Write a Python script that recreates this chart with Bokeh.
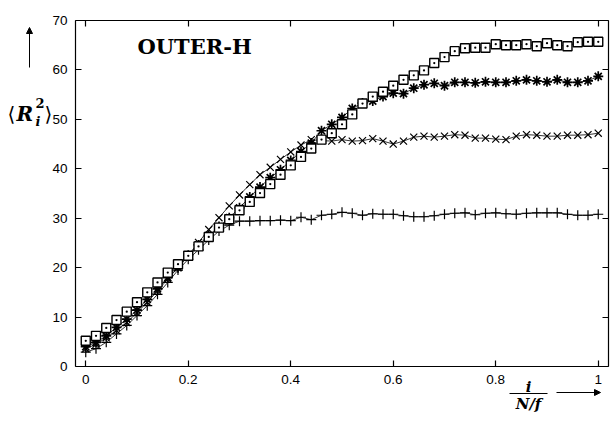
from bokeh.plotting import figure
from bokeh.models import Range1d, LinearAxis, Label, Arrow, NormalHead, FixedTicker
from bokeh.embed import file_html
from bokeh.resources import INLINE

# ---------------- data ----------------
x_vals = [0.00, 0.02, 0.04, 0.06, 0.08, 0.10, 0.12, 0.14, 0.16, 0.18,
          0.20, 0.22, 0.24, 0.26, 0.28, 0.30, 0.32, 0.34, 0.36, 0.38,
          0.40, 0.42, 0.44, 0.46, 0.48, 0.50, 0.52, 0.54, 0.56, 0.58,
          0.60, 0.62, 0.64, 0.66, 0.68, 0.70, 0.72, 0.74, 0.76, 0.78,
          0.80, 0.82, 0.84, 0.86, 0.88, 0.90, 0.92, 0.94, 0.96, 0.98, 1.00]

plus_vals = [2.9, 3.6, 4.9, 6.6, 8.3, 10.3, 12.3, 14.6, 17.0, 19.5,
             21.7, 23.6, 25.6, 27.4, 28.6, 29.4, 29.4, 29.5, 29.5, 29.6,
             29.5, 30.2, 29.7, 30.6, 30.8, 31.2, 31.0, 30.6, 30.9, 30.8,
             30.8, 30.5, 30.3, 30.3, 30.5, 30.8, 31.0, 31.1, 30.7, 31.0,
             31.1, 30.9, 30.8, 31.0, 31.1, 31.1, 31.1, 30.8, 30.6, 30.6, 30.8]

cross_vals = [3.6, 4.5, 5.8, 7.3, 8.9, 10.9, 13.0, 15.3, 17.7, 20.0,
              22.5, 25.1, 27.7, 30.1, 32.5, 34.7, 36.8, 38.8, 40.3, 41.9,
              43.4, 44.8, 45.9, 45.7, 45.6, 45.9, 45.6, 45.7, 46.1, 45.6,
              45.0, 45.6, 46.4, 46.6, 46.4, 46.6, 46.9, 46.8, 46.2, 46.2,
              46.0, 45.9, 46.6, 46.9, 46.8, 46.6, 46.6, 46.8, 46.8, 46.9, 47.2]

star_vals = [4.0, 4.9, 6.2, 7.9, 9.6, 11.4, 13.6, 15.7, 18.0, 20.0,
             22.5, 24.6, 26.5, 28.3, 30.1, 32.1, 34.3, 36.3, 38.2, 39.8,
             41.7, 43.5, 45.2, 47.7, 49.0, 50.4, 52.2, 53.3, 53.7, 54.6,
             55.3, 55.2, 56.3, 57.0, 57.3, 56.8, 57.5, 57.5, 57.4, 57.6,
             57.5, 57.5, 57.8, 58.0, 57.8, 57.6, 58.0, 57.5, 57.5, 57.8, 58.7]

square_vals = [5.2, 6.2, 7.8, 9.4, 11.1, 13.0, 15.0, 17.0, 19.0, 20.7,
               22.4, 24.3, 26.2, 28.1, 29.8, 31.6, 33.3, 35.1, 36.9, 38.8,
               40.7, 42.4, 44.1, 45.9, 47.2, 49.0, 51.0, 53.2, 54.6, 55.6,
               56.8, 58.0, 58.9, 59.9, 61.4, 62.6, 63.8, 64.4, 64.5, 64.5,
               65.2, 65.0, 65.0, 65.2, 64.8, 65.4, 65.0, 64.8, 65.6, 65.7, 65.7]

x_ticks = [0, 0.2, 0.4, 0.6, 0.8, 1]
x_tick_labels = {0: "0", 0.2: "0.2", 0.4: "0.4", 0.6: "0.6", 0.8: "0.8", 1: "1"}
y_ticks = [0, 10, 20, 30, 40, 50, 60, 70]

# ---------------- layout geometry (pixels) ----------------
W, H = 610, 426
FL, FR, FT, FB = 75, 608, 20, 366          # frame box of the data area
XMIN, XMAX, YMIN, YMAX = -0.02, 1.02, 0, 70
kx = (XMAX - XMIN) / (FR - FL)
ky = (YMAX - YMIN) / (FB - FT)


def dx(px):
    return XMIN + (px - FL) * kx


def dy(py):
    return YMIN + (FB - py) * ky


p = figure(width=W, height=H, output_backend="svg", toolbar_location=None,
           x_range=Range1d(dx(0), dx(W)), y_range=Range1d(dy(H), dy(0)),
           x_axis_location=None, y_axis_location=None,
           min_border_left=0, min_border_right=0, min_border_top=0, min_border_bottom=0)
p.grid.visible = False
p.outline_line_color = None
p.background_fill_color = "white"
p.border_fill_color = "white"


def make_axis(ticks, bounds, loc, show_labels, overrides=None):
    ax = LinearAxis(ticker=FixedTicker(ticks=ticks), fixed_location=loc, bounds=bounds)
    ax.major_tick_in = 6
    ax.major_tick_out = 0
    ax.minor_tick_line_color = None
    ax.axis_line_color = "black"
    ax.axis_line_width = 1.2
    ax.major_tick_line_color = "black"
    ax.major_tick_line_width = 1.2
    if show_labels:
        ax.major_label_text_font = "Liberation Sans"
        ax.major_label_text_font_size = "13.5px"
        ax.major_label_text_color = "black"
        ax.major_label_standoff = 8
        if overrides:
            ax.major_label_overrides = overrides
    else:
        ax.major_label_text_color = None
    return ax


p.add_layout(make_axis(x_ticks, (XMIN, XMAX), YMIN, True, x_tick_labels), "below")
p.add_layout(make_axis(y_ticks, (YMIN, YMAX), XMIN, True), "left")
p.add_layout(make_axis(x_ticks, (XMIN, XMAX), YMAX, False), "above")
p.add_layout(make_axis(y_ticks, (YMIN, YMAX), XMAX, False), "right")

# ---------------- series ----------------
lw = 0.8
p.line(x_vals, plus_vals, line_color="black", line_width=lw)
p.line(x_vals, cross_vals, line_color="black", line_width=lw)
p.line(x_vals, star_vals, line_color="black", line_width=lw)
p.line(x_vals, square_vals, line_color="black", line_width=lw)

p.scatter(x_vals, plus_vals, marker="cross", size=10, line_color="black", line_width=1.2)
p.scatter(x_vals, cross_vals, marker="x", size=10, line_color="black", line_width=1.2)
p.scatter(x_vals, star_vals, marker="asterisk", size=10, line_color="black", line_width=1.7)
p.scatter(x_vals, square_vals, marker="square_dot", size=9, line_color="black",
          line_width=1.4, fill_color="white")

# ---------------- annotations ----------------
serif = "DejaVu Serif"


def lab(px, py, text, style, size, align="left"):
    p.add_layout(Label(x=dx(px), y=dy(py), text=text, text_font=serif,
                       text_font_style=style, text_font_size=size,
                       text_baseline="middle", text_align=align, text_color="black"))


lab(137, 46, "OUTER-H", "bold", "21px")

# y label  <R_i^2>
lab(7, 113, "⟨", "normal", "20px")
lab(16, 113, "R", "bold italic", "20px")
lab(35, 102, "2", "bold", "13px")
lab(35, 121, "i", "bold italic", "13px")
lab(44, 113, "⟩", "normal", "20px")
p.add_layout(Arrow(x_start=dx(29), y_start=dy(67), x_end=dx(29), y_end=dy(27),
                   line_color="black", line_width=1,
                   end=NormalHead(size=6, line_color="black", fill_color="black")))

# x label  i / (N/f)
lab(528, 386, "i", "bold italic", "15px", "center")
p.add_layout(Arrow(x_start=dx(509), y_start=dy(393), x_end=dx(547), y_end=dy(393),
                   line_color="black", line_width=1, end=None))
lab(528, 403, "N/f", "bold italic", "15px", "center")
p.add_layout(Arrow(x_start=dx(556), y_start=dy(392), x_end=dx(600), y_end=dy(392),
                   line_color="black", line_width=1,
                   end=NormalHead(size=6, line_color="black", fill_color="black")))

open("out.html", "w").write(file_html(p, INLINE))
